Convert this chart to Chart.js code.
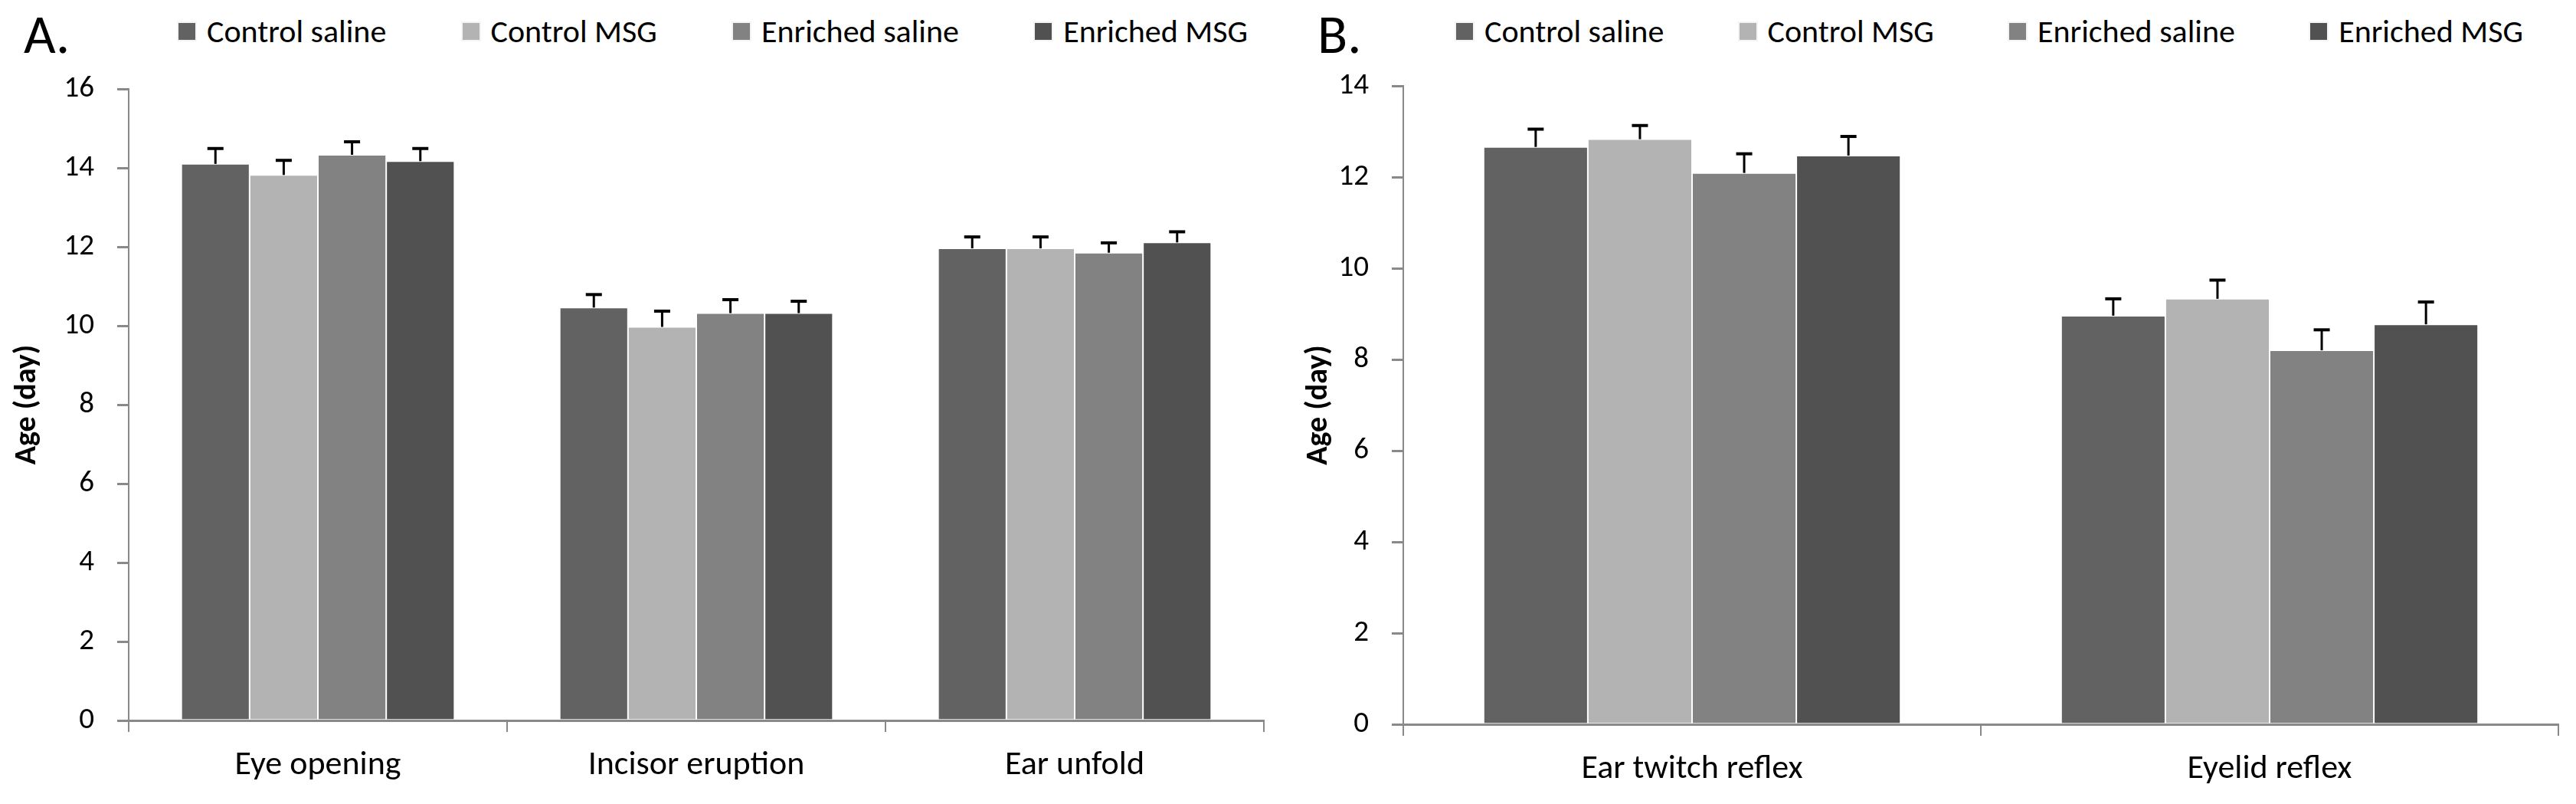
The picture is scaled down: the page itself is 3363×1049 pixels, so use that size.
<!DOCTYPE html>
<html>
<head>
<meta charset="utf-8">
<script src="https://cdn.jsdelivr.net/npm/chart.js@4/dist/chart.umd.min.js"></script>
<style>
    body { margin: 0; background: #fff; width: 3363px; height: 1049px; position: relative; overflow: hidden; font-family: Calibri, Carlito, Lato, sans-serif; }
    .panel-letter { position: absolute; top: 8px; font-size: 72px; line-height: 1; color: #000; }
    .legend { position: absolute; top: 20px; display: flex; justify-content: space-between; align-items: center; font-size: 42px; line-height: 1; color: #000; }
    .legend-item { display: flex; align-items: center; }
    .legend-box { width: 22px; height: 22px; margin-right: 15px; box-shadow: 0 0 0 2px #f4f4f4; }
    canvas { position: absolute; top: 0; }
</style>
</head>
<body>
<div class="panel-letter" style="left: 31px;">A.</div>
<div class="panel-letter" style="left: 1720px;">B.</div>
<div class="legend" id="legend-a" style="left: 233px; width: 1396px;"></div>
<div class="legend" id="legend-b" style="left: 1901px; width: 1393px;"></div>
<canvas id="chartA" width="1670" height="1049" style="left: 0;"></canvas>
<canvas id="chartB" width="1693" height="1049" style="left: 1670px;"></canvas>

<script>
// Series names and colours
const seriesNames = ['Control saline', 'Control MSG', 'Enriched saline', 'Enriched MSG'];
const seriesColors = ['#626262', '#b3b3b3', '#828282', '#515151'];

// Panel A: physical development
const categoriesA = ['Eye opening', 'Incisor eruption', 'Ear unfold'];
const controlSalineA = [14.10, 10.46, 11.96];
const controlMsgA = [13.82, 9.97, 11.96];
const enrichedSalineA = [14.33, 10.32, 11.85];
const enrichedMsgA = [14.17, 10.32, 12.11];
const controlSalineErrA = [0.39, 0.33, 0.29];
const controlMsgErrA = [0.37, 0.40, 0.29];
const enrichedSalineErrA = [0.33, 0.34, 0.25];
const enrichedMsgErrA = [0.32, 0.30, 0.27];
const yMaxA = 16;

// Panel B: reflexes
const categoriesB = ['Ear twitch reflex', 'Eyelid reflex'];
const controlSalineB = [12.66, 8.96];
const controlMsgB = [12.83, 9.33];
const enrichedSalineB = [12.09, 8.20];
const enrichedMsgB = [12.47, 8.77];
const controlSalineErrB = [0.39, 0.37];
const controlMsgErrB = [0.30, 0.41];
const enrichedSalineErrB = [0.42, 0.45];
const enrichedMsgErrB = [0.42, 0.49];
const yMaxB = 14;

const yStep = 2;
const axisGrey = '#898989';

Chart.defaults.font.family = 'Calibri, Carlito, Lato, sans-serif';
Chart.defaults.color = '#000';

// draws the upper half of the SEM bars on top of each bar
const errorBars = {
    id: 'errorBars',
    afterDatasetsDraw(chart) {
        const ctx = chart.ctx;
        const yScale = chart.scales.y;
        ctx.save();
        ctx.strokeStyle = '#000';
        chart.data.datasets.forEach((ds, i) => {
            const meta = chart.getDatasetMeta(i);
            meta.data.forEach((bar, j) => {
                const top = yScale.getPixelForValue(ds.data[j] + ds.errors[j]);
                ctx.lineWidth = 3;
                ctx.beginPath();
                ctx.moveTo(bar.x, bar.y);
                ctx.lineTo(bar.x, top);
                ctx.stroke();
                ctx.lineWidth = 4;
                ctx.beginPath();
                ctx.moveTo(bar.x - 10.5, top);
                ctx.lineTo(bar.x + 10.5, top);
                ctx.stroke();
            });
        });
        ctx.restore();
    }
};

function makeDatasets(values, errors) {
    return values.map((data, i) => ({
        label: seriesNames[i],
        data: data,
        errors: errors[i],
        backgroundColor: seriesColors[i],
        borderColor: '#fff',
        borderWidth: 1,
        barPercentage: 1,
        categoryPercentage: 0.722
    }));
}

function buildLegend(id) {
    const el = document.getElementById(id);
    seriesNames.forEach((name, i) => {
        const item = document.createElement('div');
        item.className = 'legend-item';
        item.innerHTML = `<span class="legend-box" style="background:${seriesColors[i]}"></span><span>${name}</span>`;
        el.appendChild(item);
    });
}

function makeChart(canvasId, labels, datasets, yMax, opts) {
    return new Chart(document.getElementById(canvasId), {
        type: 'bar',
        data: { labels, datasets },
        plugins: [errorBars],
        options: {
            responsive: false,
            animation: false,
            devicePixelRatio: 1,
            layout: { padding: opts.padding },
            plugins: {
                legend: { display: false },
                tooltip: { enabled: false }
            },
            scales: {
                x: {
                    afterFit: (scale) => { scale.height = 80; },
                    grid: { drawOnChartArea: false, offset: true, tickLength: 15, color: axisGrey, lineWidth: 2 },
                    border: { color: axisGrey, width: 3 },
                    ticks: { font: { size: 44 }, padding: 18, maxRotation: 0 }
                },
                y: {
                    min: 0,
                    max: yMax,
                    afterFit: (scale) => { scale.width = opts.yWidth; },
                    grid: { drawOnChartArea: false, tickLength: 15, color: axisGrey, lineWidth: 3 },
                    border: { color: axisGrey, width: 2 },
                    ticks: { stepSize: yStep, font: { size: 39 }, padding: 30 },
                    title: {
                        display: true,
                        text: 'Age (day)',
                        font: { size: 40, weight: 'bold' },
                        padding: { top: opts.titlePad, bottom: 0 }
                    }
                }
            }
        }
    });
}

buildLegend('legend-a');
buildLegend('legend-b');

makeChart('chartA', categoriesA,
    makeDatasets([controlSalineA, controlMsgA, enrichedSalineA, enrichedMsgA],
                 [controlSalineErrA, controlMsgErrA, enrichedSalineErrA, enrichedMsgErrA]),
    yMaxA, { padding: { left: 0, right: 20, top: 116, bottom: 29 }, yWidth: 168, titlePad: 12 });

makeChart('chartB', categoriesB,
    makeDatasets([controlSalineB, controlMsgB, enrichedSalineB, enrichedMsgB],
                 [controlSalineErrB, controlMsgErrB, enrichedSalineErrB, enrichedMsgErrB]),
    yMaxB, { padding: { left: 0, right: 23, top: 112, bottom: 24 }, yWidth: 162, titlePad: 28 });
</script>
</body>
</html>
